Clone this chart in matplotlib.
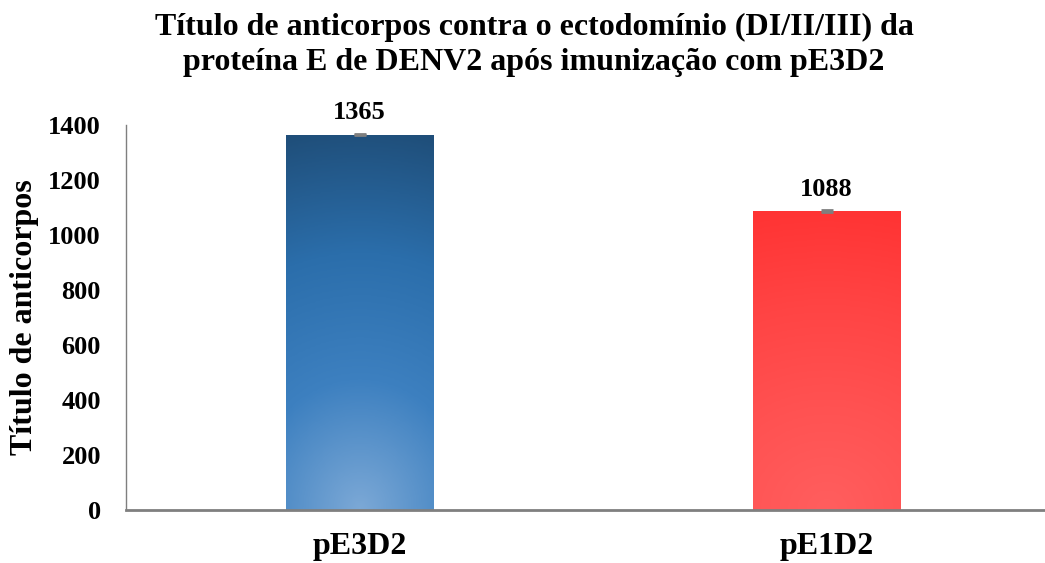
import numpy as np
import matplotlib.pyplot as plt
from matplotlib.colors import LinearSegmentedColormap

# dados
grupos = ['pE3D2', 'pE1D2']
titulos = [1365, 1088]
erros = [3, 3]

plt.rcParams['font.family'] = ['Liberation Serif', 'DejaVu Serif']
plt.rcParams['font.weight'] = 'bold'

fig = plt.figure(figsize=(10.45, 5.63), dpi=100)
ax = fig.add_axes([126 / 1045, 53 / 563, 934 / 1045, 385 / 563])

x = np.arange(len(grupos))
barras = ax.bar(x, titulos, width=0.315, color='none', edgecolor='none', zorder=2)

# gradiente radial a partir da base de cada barra
cmaps = [
    LinearSegmentedColormap.from_list('azul', ['#7ba8d6', '#3d80c0', '#2b6eab', '#1f4e79']),
    LinearSegmentedColormap.from_list('verm', ['#ff5e5e', '#ff5252', '#ff4444', '#ff3333']),
]
ny, nx = 200, 60
yy, xx = np.mgrid[0:1:ny * 1j, -0.5:0.5:nx * 1j]
for barra, cmap in zip(barras, cmaps):
    x0, y0 = barra.get_x(), barra.get_y()
    w, h = barra.get_width(), barra.get_height()
    # distância ao centro da base (em proporção da altura)
    d = np.sqrt((xx * 0.45) ** 2 + yy ** 2)
    d = np.clip(d / d.max(), 0, 1)
    img = ax.imshow(d, cmap=cmap, origin='lower', aspect='auto',
                    extent=(x0, x0 + w, y0, y0 + h), zorder=1, interpolation='bilinear')
    img.set_clip_path(barra)

ax.errorbar(x, titulos, yerr=erros, fmt='none', ecolor='#7f7f7f',
            elinewidth=2, capsize=4, capthick=2, zorder=3)

for xi, v, e in zip(x, titulos, erros):
    ax.annotate(str(v), (xi, v + e), xytext=(0, 15), textcoords='offset points',
                ha='center', va='center', fontsize=19, fontweight='bold')

ax.set_xlim(-0.5, 1.5)
ax.set_ylim(0, 1400)
ax.set_yticks(range(0, 1401, 200))
ax.set_xticks(x)
ax.set_xticklabels(grupos, fontsize=23, fontweight='bold')
ax.tick_params(axis='y', labelsize=19, length=0, pad=18)
ax.tick_params(axis='x', length=0, pad=16)
for lab in ax.get_yticklabels():
    lab.set_fontweight('bold')

ax.spines['top'].set_visible(False)
ax.spines['right'].set_visible(False)
ax.spines['left'].set_color('#7f7f7f')
ax.spines['left'].set_linewidth(1)
ax.spines['bottom'].set_color('#7f7f7f')
ax.spines['bottom'].set_linewidth(2)

ax.set_ylabel('Título de anticorpos', fontsize=23, fontweight='bold', labelpad=7)
fig.text(0.511, 0.977, 'Título de anticorpos contra o ectodomínio (DI/II/III) da\n'
         'proteína E de DENV2 após imunização com pE3D2',
         ha='center', va='top', fontsize=23, fontweight='bold', linespacing=1.27)

fig.savefig('out.png', dpi=100)
